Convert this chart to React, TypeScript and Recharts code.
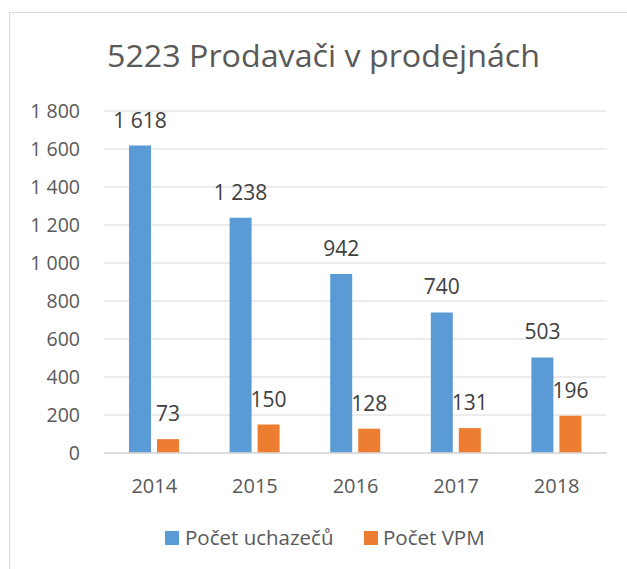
import React from "react";
import { BarChart, Bar, XAxis, YAxis, CartesianGrid, LabelList } from "recharts";

const years = ["2014", "2015", "2016", "2017", "2018"];
const uchazeci = [1618, 1238, 942, 740, 503];
const vpm = [73, 150, 128, 131, 196];
const yTicks = [0, 200, 400, 600, 800, 1000, 1200, 1400, 1600, 1800];

const BLUE = "#5B9BD5";
const ORANGE = "#ED7D31";
const TEXT = "#595959";
const GRID = "#D9D9D9";
const FONT = "'Open Sans', sans-serif";

// thousands with a non-breaking space, Czech style (keeps labels on one line)
const fmt = (v: number | string) =>
  String(v).replace(/\B(?=(\d{3})+(?!\d))/g, "\u00A0");

const data = years.map((y, i) => ({
  year: y,
  uchazeci: uchazeci[i],
  vpm: vpm[i],
}));

const App = () => {
  return (
    <div
      style={{
        position: "absolute",
        left: 0,
        top: 0,
        width: 627,
        height: 569,
        overflow: "hidden",
        background: "#fff",
        fontFamily: FONT,
      }}
    >
      {/* frame of the chart area */}
      <div
        style={{
          position: "absolute",
          left: 9,
          top: 12,
          width: 700,
          height: 700,
          borderLeft: `1px solid ${GRID}`,
          borderTop: `1px solid ${GRID}`,
        }}
      />

      <div style={{ position: "absolute", left: 0, top: 0 }}>
        <BarChart
          width={627}
          height={569}
          data={data}
          margin={{ top: 111, right: 20, left: 0, bottom: 86 }}
          barSize={22}
          barGap={6}
        >
          <CartesianGrid vertical={false} stroke={GRID} />
          <XAxis
            dataKey="year"
            height={30}
            tickLine={false}
            tickSize={0}
            tickMargin={26}
            axisLine={{ stroke: GRID, strokeWidth: 1.5 }}
            tick={{ fill: TEXT, fontSize: 20, fontFamily: FONT }}
          />
          <YAxis
            width={104}
            domain={[0, 1800]}
            ticks={yTicks}
            interval={0}
            tickLine={false}
            axisLine={false}
            tickSize={0}
            tickMargin={24}
            tickFormatter={fmt}
            tick={{ fill: TEXT, fontSize: 19.5, fontFamily: FONT }}
          />
          <Bar dataKey="uchazeci" fill={BLUE} isAnimationActive={false}>
            <LabelList
              dataKey="uchazeci"
              position="top"
              offset={18}
              formatter={fmt}
              style={{ fill: "#404040", fontSize: 21, fontFamily: FONT }}
            />
          </Bar>
          <Bar dataKey="vpm" fill={ORANGE} isAnimationActive={false}>
            <LabelList
              dataKey="vpm"
              position="top"
              offset={18}
              formatter={fmt}
              style={{ fill: "#404040", fontSize: 21, fontFamily: FONT }}
            />
          </Bar>
        </BarChart>
      </div>

      {/* title and legend */}
      <svg
        width={627}
        height={569}
        style={{ position: "absolute", left: 0, top: 0, pointerEvents: "none" }}
      >
        <text
          x={107}
          y={67}
          fontSize={31}
          fill={TEXT}
          fontFamily={FONT}
          textLength={433}
          lengthAdjust="spacingAndGlyphs"
        >
          5223 Prodavači v prodejnách
        </text>
        <rect x={165} y={531} width={14} height={14} fill={BLUE} />
        <text x={185} y={545} fontSize={20.5} fill={TEXT} fontFamily={FONT}>
          Počet uchazečů
        </text>
        <rect x={364} y={531} width={14} height={14} fill={ORANGE} />
        <text x={383} y={545} fontSize={20.5} fill={TEXT} fontFamily={FONT}>
          Počet VPM
        </text>
      </svg>
    </div>
  );
};

export default App;
